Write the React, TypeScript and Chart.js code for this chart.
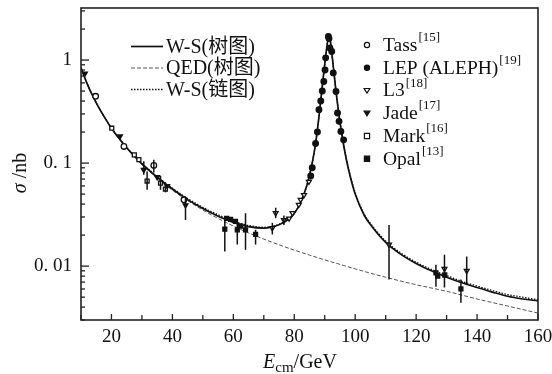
import React, { useEffect, useRef } from "react";
import { Chart, registerables } from "chart.js";

Chart.register(...registerables);

const SERIF = "'Liberation Serif', 'Times New Roman', 'Noto Sans CJK SC', serif";
const INK = "#111";

// ---- theory curves ----
const curveE = [10, 12, 14, 16, 18, 20, 22, 25, 28, 30, 32, 35, 38, 40, 45, 50, 55, 60, 65, 70, 75, 78, 80, 82, 84, 85, 86, 87, 88, 88.5, 89, 89.5, 90, 90.5, 91, 91.3, 91.6, 92, 92.5, 93, 93.5, 94, 94.5, 95, 96, 97, 98, 100, 103, 106, 110, 115, 120, 125, 130, 135, 140, 145, 150, 155, 160];
const wsTree = [0.84, 0.59, 0.44, 0.34, 0.27, 0.218, 0.181, 0.141, 0.113, 0.098, 0.087, 0.073, 0.062, 0.056, 0.0442, 0.0362, 0.0305, 0.0266, 0.0242, 0.0234, 0.0252, 0.0283, 0.0325, 0.041, 0.059, 0.076, 0.104, 0.155, 0.265, 0.36, 0.49, 0.67, 0.91, 1.21, 1.56, 1.73, 1.68, 1.42, 1.05, 0.77, 0.56, 0.42, 0.32, 0.25, 0.162, 0.112, 0.082, 0.05, 0.031, 0.0232, 0.017, 0.013, 0.0106, 0.009, 0.0078, 0.0069, 0.0062, 0.0056, 0.0051, 0.0048, 0.0046];
const wsChain = [0.84, 0.59, 0.44, 0.34, 0.27, 0.218, 0.181, 0.141, 0.114, 0.099, 0.088, 0.074, 0.063, 0.057, 0.0452, 0.0372, 0.0315, 0.0274, 0.0248, 0.0238, 0.0255, 0.0286, 0.0328, 0.0413, 0.0593, 0.0763, 0.104, 0.155, 0.264, 0.358, 0.487, 0.665, 0.9, 1.2, 1.54, 1.71, 1.66, 1.41, 1.05, 0.77, 0.56, 0.42, 0.322, 0.252, 0.164, 0.114, 0.084, 0.0515, 0.0318, 0.0238, 0.0175, 0.0134, 0.0109, 0.0093, 0.0081, 0.0071, 0.0064, 0.0058, 0.0053, 0.005, 0.0047];
const qedE = [10, 12, 14, 16, 18, 20, 25, 30, 35, 40, 45, 50, 55, 60, 65, 70, 75, 80, 85, 90, 95, 100, 110, 120, 130, 140, 150, 160];
const qedTree = [0.85, 0.595, 0.44, 0.338, 0.268, 0.217, 0.139, 0.097, 0.0712, 0.0546, 0.0432, 0.035, 0.029, 0.0245, 0.021, 0.0183, 0.0161, 0.0143, 0.0128, 0.0115, 0.0104, 0.0094, 0.0078, 0.0066, 0.0057, 0.0048, 0.0041, 0.0035];

// ---- measurements: energy, sigma, error-bar low, error-bar high ----
const tassE = [14.8, 24.1, 33.9, 43.8];
const tassS = [0.445, 0.145, 0.095, 0.044];
const tassLo = [null, null, 0.081, null];
const tassHi = [null, null, 0.108, null];

const alephE = [85.4, 85.9, 87.0, 87.6, 88.1, 88.7, 89.2, 89.7, 90.1, 90.3, 91.2, 91.4, 91.7, 92.3, 92.8, 93.7, 94.2, 94.7, 95.3, 96.2];
const alephS = [0.075, 0.09, 0.155, 0.2, 0.33, 0.4, 0.5, 0.62, 0.8, 1.05, 1.69, 1.62, 1.31, 1.21, 0.75, 0.496, 0.306, 0.254, 0.203, 0.168];

const l3E = [72.8, 73.9, 76.6, 78.3, 79.4, 81.5, 82.1, 83.2, 84.8, 111.1, 129.3, 136.6];
const l3S = [0.0234, 0.0327, 0.028, 0.029, 0.0327, 0.0394, 0.0441, 0.049, 0.066, 0.0162, 0.0094, 0.009];
const l3Lo = [0.0203, 0.0292, 0.025, null, null, null, null, null, null, 0.0074, 0.0062, 0.0066];
const l3Hi = [0.0263, 0.0369, 0.031, null, null, null, null, null, null, 0.025, 0.0129, 0.0124];

const jadeE = [11.3, 22.8, 30.6, 35.0, 38.3, 44.3];
const jadeS = [0.74, 0.182, 0.086, 0.073, 0.06, 0.039];
const jadeLo = [null, null, 0.077, null, null, 0.028];
const jadeHi = [null, null, 0.104, null, null, 0.046];

const markE = [20.1, 27.5, 29.0, 31.7, 36.1, 37.7];
const markS = [0.218, 0.12, 0.108, 0.067, 0.064, 0.056];
const markLo = [null, null, null, 0.055, 0.055, 0.052];
const markHi = [null, null, null, 0.083, 0.075, 0.065];

const opalE = [57.2, 57.8, 59.1, 60.7, 61.3, 62.4, 64.0, 67.3, 126.5, 127.1, 129.4, 134.7];
const opalS = [0.0228, 0.029, 0.0284, 0.0272, 0.0225, 0.0244, 0.0225, 0.0203, 0.0086, 0.008, 0.0082, 0.006];
const opalLo = [0.0139, null, null, null, 0.0162, null, 0.0144, 0.0162, 0.0063, null, null, 0.0044];
const opalHi = [0.0303, null, null, null, 0.028, null, 0.0326, 0.0225, 0.0103, null, null, 0.0074];

// ---- axis ----
const xMin = 10, xMax = 160;
const yMin = 0.003, yMax = 3.2;
const xLabelTicks = [20, 40, 60, 80, 100, 120, 140, 160];
const yLabels: Record<string, string> = { "1": "1", "0.1": "0. 1", "0.01": "0. 01" };

const lineLegend = ["W-S(树图)", "QED(树图)", "W-S(链图)"];
const pointLegend = [
  { name: "Tass", ref: "[15]", shape: "circle", fill: false },
  { name: "LEP (ALEPH)", ref: "[19]", shape: "circle", fill: true },
  { name: "L3", ref: "[18]", shape: "tri", fill: false },
  { name: "Jade", ref: "[17]", shape: "tri", fill: true },
  { name: "Mark", ref: "[16]", shape: "rect", fill: false },
  { name: "Opal", ref: "[13]", shape: "rect", fill: true },
];

const zip = (xs: number[], ys: number[]) => xs.map((x, i) => ({ x, y: ys[i] }));

function drawMarker(ctx: CanvasRenderingContext2D, shape: string, fill: boolean, cx: number, cy: number, r: number) {
  ctx.beginPath();
  if (shape === "circle") ctx.arc(cx, cy, r, 0, Math.PI * 2);
  else if (shape === "rect") ctx.rect(cx - r, cy - r, 2 * r, 2 * r);
  else {
    ctx.moveTo(cx - r * 1.1, cy - r * 0.7);
    ctx.lineTo(cx + r * 1.1, cy - r * 0.7);
    ctx.lineTo(cx, cy + r * 1.1);
    ctx.closePath();
  }
  ctx.fillStyle = fill ? INK : "#fff";
  ctx.fill();
  ctx.lineWidth = 1.2;
  ctx.strokeStyle = INK;
  ctx.stroke();
}

const errorBars = {
  id: "errorBars",
  afterDatasetsDraw(chart: any) {
    const { ctx, scales } = chart;
    const x = scales.x, y = scales.y;
    ctx.save();
    ctx.strokeStyle = INK;
    ctx.lineWidth = 1.5;
    chart.data.datasets.forEach((ds: any) => {
      if (!ds.errLo) return;
      ds.data.forEach((p: any, i: number) => {
        const lo = ds.errLo[i], hi = ds.errHi[i];
        if (lo == null || hi == null) return;
        const px = x.getPixelForValue(p.x);
        ctx.beginPath();
        ctx.moveTo(px, y.getPixelForValue(lo));
        ctx.lineTo(px, y.getPixelForValue(hi));
        ctx.stroke();
      });
    });
    ctx.restore();
  },
};

const decorations = {
  id: "decorations",
  afterDraw(chart: any) {
    const { ctx, chartArea: a, scales } = chart;
    const x = scales.x, y = scales.y;
    ctx.save();
    // frame
    ctx.strokeStyle = "#222";
    ctx.lineWidth = 1.6;
    ctx.strokeRect(a.left, a.top, a.right - a.left, a.bottom - a.top);
    // inward ticks x
    ctx.lineWidth = 1.3;
    for (let v = xMin; v <= xMax; v += 10) {
      const px = x.getPixelForValue(v);
      const len = v % 20 === 0 ? 6 : 5;
      ctx.beginPath();
      ctx.moveTo(px, a.bottom);
      ctx.lineTo(px, a.bottom - len);
      ctx.stroke();
    }
    // inward ticks y (log)
    for (let e = -3; e <= 0; e++) {
      for (let m = 1; m <= 9; m++) {
        const v = m * Math.pow(10, e);
        if (v < yMin * 0.999 || v > yMax) continue;
        const py = y.getPixelForValue(v);
        const len = m === 1 ? 8 : 4;
        ctx.beginPath();
        ctx.moveTo(a.left, py);
        ctx.lineTo(a.left + len, py);
        ctx.stroke();
      }
    }
    // axis titles
    ctx.fillStyle = INK;
    ctx.textBaseline = "alphabetic";
    ctx.textAlign = "left";
    const parts: [string, string, number][] = [
      ["E", `italic 20px ${SERIF}`, 0],
      ["cm", `15px ${SERIF}`, 4],
      ["/GeV", `20px ${SERIF}`, 0],
    ];
    let total = 0;
    parts.forEach(([t, f]) => { ctx.font = f; total += ctx.measureText(t).width; });
    let tx = 300 - total / 2;
    const base = 368;
    parts.forEach(([t, f, dy]) => {
      ctx.font = f;
      ctx.fillText(t, tx, base + dy);
      tx += ctx.measureText(t).width;
    });
    // y title
    ctx.save();
    ctx.translate(26, 173);
    ctx.rotate(-Math.PI / 2);
    ctx.textBaseline = "alphabetic";
    ctx.font = `italic 20px ${SERIF}`;
    const sw = ctx.measureText("σ").width;
    ctx.font = `20px ${SERIF}`;
    const rw = ctx.measureText(" /nb").width;
    let yx = -(sw + rw) / 2;
    ctx.font = `italic 20px ${SERIF}`;
    ctx.fillText("σ", yx, 0);
    yx += sw;
    ctx.font = `20px ${SERIF}`;
    ctx.fillText(" /nb", yx, 0);
    ctx.restore();

    // line legend
    const lineStyles = [
      { dash: [], w: 1.7, c: INK },
      { dash: [4, 2], w: 1, c: "#555" },
      { dash: [1.5, 1.5], w: 1.3, c: INK },
    ];
    const rowsY = [46.5, 68, 89.5];
    ctx.textBaseline = "middle";
    lineLegend.forEach((label, i) => {
      const s = lineStyles[i];
      ctx.setLineDash(s.dash);
      ctx.lineWidth = s.w;
      ctx.strokeStyle = s.c;
      ctx.beginPath();
      ctx.moveTo(131, rowsY[i]);
      ctx.lineTo(163, rowsY[i]);
      ctx.stroke();
      ctx.setLineDash([]);
      ctx.font = `20px ${SERIF}`;
      ctx.fillStyle = INK;
      ctx.fillText(label, 166, rowsY[i] + 1);
    });

    // marker legend
    const pRows = [45, 67.7, 90.3, 113, 136, 158.8];
    pointLegend.forEach((p, i) => {
      const cy = pRows[i];
      drawMarker(ctx, p.shape, p.fill, 367, cy, 2.6);
      ctx.fillStyle = INK;
      ctx.textBaseline = "middle";
      ctx.font = `19.5px ${SERIF}`;
      ctx.fillText(p.name, 383, cy + 1);
      const w = ctx.measureText(p.name).width;
      ctx.font = `13px ${SERIF}`;
      ctx.fillText(p.ref, 383 + w + 1, cy - 7);
    });
    ctx.restore();
  },
};

function pointSet(label: string, xs: number[], ys: number[], style: string, fill: boolean, rot: number, lo?: any[], hi?: any[]) {
  return {
    label,
    type: "scatter",
    data: zip(xs, ys),
    showLine: false,
    pointStyle: style,
    pointRotation: rot,
    pointRadius: 2.8,
    pointBorderWidth: 1.3,
    pointBackgroundColor: fill ? INK : "#fff",
    pointBorderColor: INK,
    errLo: lo,
    errHi: hi,
    order: 1,
  };
}

export default function App() {
  const ref = useRef<HTMLCanvasElement>(null);
  useEffect(() => {
    document.body.style.margin = "0";
    const canvas = ref.current!;
    const chart = new Chart(canvas, {
      type: "scatter",
      data: {
        datasets: [
          { label: "W-S tree", type: "line", data: zip(curveE, wsTree), borderColor: INK, borderWidth: 1.7, pointRadius: 0, fill: false, cubicInterpolationMode: "monotone", order: 3 },
          { label: "QED tree", type: "line", data: zip(qedE, qedTree), borderColor: "#555", borderWidth: 1, borderDash: [4, 2], pointRadius: 0, fill: false, cubicInterpolationMode: "monotone", order: 4 },
          { label: "W-S chain", type: "line", data: zip(curveE, wsChain), borderColor: INK, borderWidth: 1.3, borderDash: [1.5, 1.5], pointRadius: 0, fill: false, cubicInterpolationMode: "monotone", order: 2 },
          pointSet("Tass", tassE, tassS, "circle", false, 0, tassLo, tassHi),
          pointSet("LEP (ALEPH)", alephE, alephS, "circle", true, 0),
          pointSet("L3", l3E, l3S, "triangle", false, 180, l3Lo, l3Hi),
          pointSet("Jade", jadeE, jadeS, "triangle", true, 180, jadeLo, jadeHi),
          pointSet("Mark", markE, markS, "rect", false, 0, markLo, markHi),
          pointSet("Opal", opalE, opalS, "rect", true, 0, opalLo, opalHi),
        ] as any,
      },
      options: {
        responsive: false,
        animation: false,
        devicePixelRatio: 1,
        layout: { padding: { left: 0, right: 14, top: 8, bottom: 0 } },
        plugins: { legend: { display: false }, tooltip: { enabled: false } },
        scales: {
          x: {
            type: "linear",
            min: xMin,
            max: xMax,
            grid: { display: false, drawTicks: false },
            border: { display: false },
            ticks: {
              stepSize: 10,
              autoSkip: false,
              maxRotation: 0,
              padding: 6,
              color: INK,
              font: { family: SERIF, size: 19 },
              callback: (v: any) => (xLabelTicks.includes(Number(v)) ? String(v) : ""),
            },
            afterFit: (s: any) => { s.height = 54; s.paddingLeft = 0; s.paddingRight = 0; },
          },
          y: {
            type: "logarithmic",
            min: yMin,
            max: yMax,
            grid: { display: false, drawTicks: false },
            border: { display: false },
            ticks: {
              autoSkip: false,
              padding: 9,
              color: INK,
              font: { family: SERIF, size: 19 },
              callback: (v: any) => {
                const key = String(Number(Number(v).toPrecision(6)));
                return yLabels[key] ?? "";
              },
            },
            afterBuildTicks: (s: any) => { s.min = yMin; s.max = yMax; },
            afterFit: (s: any) => { s.width = 81; s.paddingTop = 0; s.paddingBottom = 0; },
          },
        },
      },
      plugins: [errorBars, decorations],
    });
    return () => chart.destroy();
  }, []);
  return <canvas ref={ref} width={552} height={374} style={{ display: "block", width: 552, height: 374 }} />;
}
